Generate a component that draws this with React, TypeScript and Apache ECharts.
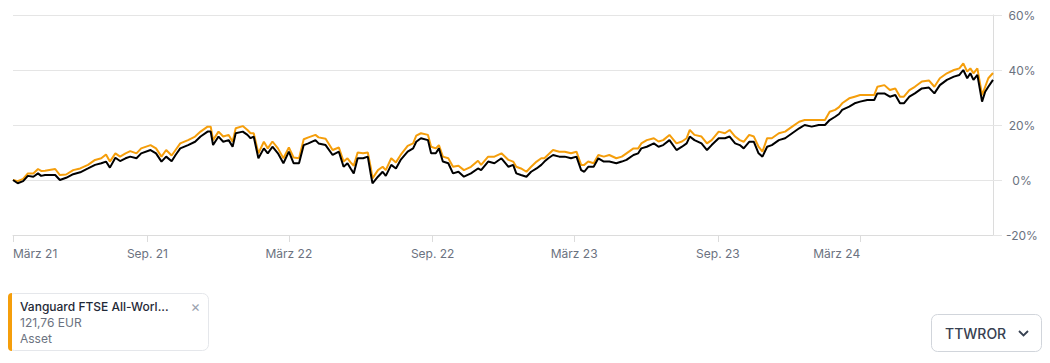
import React, { useEffect, useRef } from "react";
import * as echarts from "echarts";

const dates = [
  "2021-03-13","2021-03-19","2021-03-26","2021-04-01","2021-04-08","2021-04-14","2021-04-18","2021-04-23","2021-05-06","2021-05-12",
  "2021-05-20","2021-05-29","2021-06-07","2021-06-17","2021-06-26","2021-07-04","2021-07-10","2021-07-15","2021-07-22","2021-07-28",
  "2021-08-04","2021-08-10","2021-08-18","2021-08-24","2021-09-05","2021-09-12","2021-09-19","2021-09-25","2021-10-02","2021-10-07",
  "2021-10-13","2021-10-23","2021-11-01","2021-11-08","2021-11-17","2021-11-21","2021-11-24","2021-12-01","2021-12-07","2021-12-14",
  "2021-12-19","2021-12-23","2022-01-01","2022-01-07","2022-01-11","2022-01-15","2022-01-21","2022-01-28","2022-02-02","2022-02-08",
  "2022-02-15","2022-02-22","2022-03-01","2022-03-07","2022-03-14","2022-03-20","2022-03-26","2022-04-04","2022-04-08","2022-04-17",
  "2022-04-26","2022-05-04","2022-05-10","2022-05-15","2022-05-19","2022-05-23","2022-05-28","2022-06-04","2022-06-10","2022-06-14",
  "2022-06-16","2022-06-23","2022-06-29","2022-07-03","2022-07-10","2022-07-16","2022-07-22","2022-07-31","2022-08-07","2022-08-11",
  "2022-08-17","2022-08-26","2022-08-30","2022-09-05","2022-09-09","2022-09-14","2022-09-21","2022-09-27","2022-10-04","2022-10-11",
  "2022-10-20","2022-10-29","2022-11-02","2022-11-11","2022-11-19","2022-11-28","2022-12-07","2022-12-13","2022-12-17","2022-12-23",
  "2022-12-30","2023-01-05","2023-01-12","2023-01-18","2023-01-22","2023-01-27","2023-02-02","2023-02-10","2023-02-17","2023-02-25",
  "2023-03-04","2023-03-10","2023-03-14","2023-03-19","2023-03-26","2023-04-01","2023-04-08","2023-04-15","2023-04-24","2023-05-01",
  "2023-05-07","2023-05-16","2023-05-22","2023-05-26","2023-06-02","2023-06-11","2023-06-17","2023-06-23","2023-07-01","2023-07-10",
  "2023-07-17","2023-07-23","2023-07-27","2023-08-02","2023-08-11","2023-08-18","2023-08-24","2023-09-02","2023-09-10","2023-09-16",
  "2023-09-23","2023-09-29","2023-10-04","2023-10-11","2023-10-17","2023-10-23","2023-10-28","2023-11-03","2023-11-09","2023-11-18",
  "2023-11-26","2023-12-05","2023-12-14","2023-12-21","2023-12-30","2024-01-08","2024-01-16","2024-01-22","2024-01-29","2024-02-03",
  "2024-02-07","2024-02-16","2024-02-23","2024-03-01","2024-03-10","2024-03-19","2024-03-23","2024-04-01","2024-04-08","2024-04-15",
  "2024-04-21","2024-04-26","2024-05-03","2024-05-10","2024-05-19","2024-05-28","2024-06-04","2024-06-11","2024-06-20","2024-06-29",
  "2024-07-06","2024-07-11","2024-07-16","2024-07-20","2024-07-24","2024-07-29","2024-08-04","2024-08-08","2024-08-12","2024-08-18",
];

// black line (TTWROR)
const portfolioReturn = [
  0, -1.2, -0.4, 1.5, 1.2, 2.4, 1.5, 1.8, 1.8, 0,
  0.8, 2.1, 2.8, 4.2, 5.5, 6.1, 6.7, 4.5, 8.1, 6.9,
  7.9, 8.5, 7.9, 9.7, 10.9, 9.7, 6.7, 8.5, 6.8, 9.1,
  11.5, 12.7, 13.9, 15.8, 17.6, 17.6, 12.7, 15.8, 13.9, 14.5,
  12.1, 17.0, 17.6, 16.4, 15.2, 15.8, 7.9, 11.5, 9.7, 12.1,
  9.7, 6.1, 10.3, 6.1, 6.1, 12.7, 13.3, 14.5, 13.3, 12.7,
  9.1, 10.3, 4.8, 6.1, 4.2, 2.4, 7.9, 7.9, 8.5, 1.8,
  -1.2, 1.2, 3.0, 1.5, 5.5, 4.2, 7.3, 10.3, 11.5, 13.9,
  15.2, 14.5, 9.7, 9.7, 11.5, 6.7, 6.1, 2.4, 3.0, 1.2,
  2.4, 4.2, 3.6, 6.7, 6.1, 7.9, 4.8, 5.5, 2.4, 1.8,
  1.2, 3.0, 4.2, 5.5, 6.7, 7.9, 9.1, 8.5, 8.5, 7.9,
  8.5, 3.6, 3.0, 4.8, 4.8, 7.9, 6.7, 6.7, 6.1, 6.7,
  7.3, 9.1, 9.7, 11.5, 12.1, 13.3, 12.1, 12.7, 14.5, 10.9,
  12.1, 13.3, 15.8, 14.5, 13.3, 10.9, 12.7, 15.2, 15.2, 15.8,
  13.3, 12.7, 11.5, 13.9, 13.9, 9.7, 8.5, 12.1, 12.7, 14.5,
  15.2, 17.0, 18.8, 20.0, 19.4, 20.0, 20.0, 21.8, 23.0, 24.0,
  25.5, 26.7, 27.9, 28.5, 29.1, 29.1, 31.5, 31.5, 30.3, 30.9,
  27.9, 27.9, 30.3, 31.5, 33.3, 33.6, 31.5, 34.5, 36.4, 37.6,
  38.2, 40.0, 37.0, 38.8, 36.4, 38.2, 28.5, 32.1, 33.9, 36.4,
];

// orange line (Vanguard FTSE All-World)
const assetReturn = [
  0, -0.4, 0.4, 2.4, 2.4, 4.0, 3.3, 3.4, 4.0, 1.8,
  2.0, 3.6, 4.2, 5.5, 7.3, 7.9, 9.3, 6.7, 9.7, 8.5,
  9.7, 10.5, 9.7, 11.5, 12.7, 11.5, 8.5, 10.9, 8.9, 10.9,
  13.3, 14.5, 15.8, 17.6, 19.4, 19.4, 14.5, 17.6, 15.8, 16.4,
  13.9, 18.8, 19.6, 18.2, 17.0, 17.0, 9.7, 13.9, 11.5, 14.0,
  11.5, 7.9, 11.8, 8.2, 7.9, 14.8, 15.5, 16.4, 15.5, 15.0,
  10.9, 11.8, 6.7, 7.9, 6.4, 5.2, 10.0, 9.7, 10.0, 4.2,
  0.6, 3.6, 4.8, 3.6, 7.9, 6.4, 9.1, 12.4, 13.3, 16.1,
  17.0, 16.4, 12.1, 11.5, 12.7, 8.5, 7.9, 4.8, 5.2, 3.6,
  4.8, 7.0, 5.5, 8.5, 8.5, 9.7, 7.3, 6.7, 4.8, 4.2,
  3.0, 4.8, 6.7, 7.9, 7.9, 9.3, 10.9, 10.3, 10.3, 9.7,
  10.3, 5.5, 5.5, 6.7, 6.1, 9.1, 8.5, 9.1, 7.9, 8.5,
  9.7, 11.5, 11.5, 13.3, 14.5, 15.2, 14.0, 14.5, 16.4, 13.3,
  14.0, 15.2, 18.2, 16.4, 15.8, 13.3, 14.5, 17.6, 17.0, 18.2,
  15.8, 14.5, 13.9, 16.4, 15.8, 12.1, 10.3, 15.2, 15.2, 17.0,
  17.6, 19.4, 21.2, 21.8, 21.8, 21.8, 21.8, 24.8, 25.5, 26.5,
  27.9, 29.7, 30.3, 30.9, 30.9, 30.9, 33.9, 34.5, 32.7, 33.3,
  30.3, 30.3, 32.7, 33.9, 35.8, 36.2, 33.9, 37.0, 38.8, 40.0,
  40.6, 42.4, 39.4, 40.6, 38.8, 40.6, 30.9, 33.9, 37.0, 38.9,
];

const xTickDates = ["2021-03-13", "2021-09-01", "2022-03-01", "2022-09-01", "2023-03-01", "2023-09-01", "2024-03-01"];
const yMin = -20;
const yMax = 60;
const yStep = 20;

const legendName = "Vanguard FTSE All-Worl...";
const legendPrice = "121,76 EUR";
const legendType = "Asset";
const metricLabel = "TTWROR";

const ORANGE = "#f59e0b";
const FONT = "Inter, 'Noto Sans', sans-serif";

const ts = (d: string) => echarts.time.parse(d).getTime();

export default function App() {
  const ref = useRef<HTMLDivElement | null>(null);

  useEffect(() => {
    if (!ref.current) return;
    const chart = echarts.init(ref.current, undefined, { renderer: "svg" });
    const tickVals = xTickDates.map(ts);
    const option: any = {
      animation: false,
      backgroundColor: "#ffffff",
      textStyle: { fontFamily: FONT },
      grid: { left: 13, right: 57, top: 15, bottom: 128, containLabel: false },
      xAxis: {
        type: "value",
        min: ts(dates[0]),
        max: ts(dates[dates.length - 1]),
        axisLine: { show: true, onZero: false, lineStyle: { color: "#dcdcdc", width: 1 } },
        axisTick: { show: true, length: 7, lineStyle: { color: "#dcdcdc" }, customValues: tickVals },
        splitLine: { show: false },
        axisLabel: {
          customValues: tickVals,
          margin: 12,
          color: "#6b7280",
          fontSize: 12,
          fontFamily: FONT,
          alignMinLabel: "left",
          alignMaxLabel: "right",
          hideOverlap: false,
          formatter: (v: number) => {
            const d = new Date(v);
            const yy = String(d.getFullYear()).slice(2);
            return d.getMonth() === 2 ? `März ${yy}` : `Sep. ${yy}`;
          },
        },
      },
      yAxis: {
        type: "value",
        position: "right",
        min: yMin,
        max: yMax,
        interval: yStep,
        axisLine: { show: true, lineStyle: { color: "#dcdcdc", width: 1 } },
        axisTick: { show: true, length: 9, lineStyle: { color: "#e5e5e5" } },
        splitLine: { show: true, lineStyle: { color: "#e5e5e5", width: 1 } },
        axisLabel: {
          margin: 29,
          align: "center",
          color: "#6b7280",
          fontSize: 12,
          fontFamily: FONT,
          formatter: "{value}%",
        },
      },
      series: [
        {
          name: "Vanguard FTSE All-World",
          type: "line",
          showSymbol: false,
          symbol: "none",
          lineStyle: { color: ORANGE, width: 2 },
          itemStyle: { color: ORANGE },
          data: dates.map((d, i) => [ts(d), assetReturn[i]]),
          z: 2,
        },
        {
          name: "TTWROR",
          type: "line",
          showSymbol: false,
          symbol: "none",
          lineStyle: { color: "#000000", width: 2 },
          itemStyle: { color: "#000000" },
          data: dates.map((d, i) => [ts(d), portfolioReturn[i]]),
          z: 3,
        },
      ],
      graphic: [
        {
          type: "rect",
          shape: { x: 8.5, y: 293.5, width: 200, height: 57, r: 6 },
          style: { fill: "#ffffff", stroke: "#e5e7eb", lineWidth: 1 },
        },
        {
          type: "rect",
          shape: { x: 8, y: 293, width: 4, height: 58, r: [6, 0, 0, 6] },
          style: { fill: ORANGE },
        },
        {
          type: "text",
          x: 20,
          y: 306,
          style: { text: legendName, fill: "#1f2937", font: `500 12px ${FONT}`, verticalAlign: "middle" },
        },
        {
          type: "text",
          x: 20,
          y: 322,
          style: { text: legendPrice, fill: "#6b7280", font: `400 12px ${FONT}`, verticalAlign: "middle" },
        },
        {
          type: "text",
          x: 20,
          y: 338,
          style: { text: legendType, fill: "#6b7280", font: `400 12px ${FONT}`, verticalAlign: "middle" },
        },
        {
          type: "text",
          x: 195.5,
          y: 306,
          style: { text: "×", fill: "#9ca3af", font: `400 15px ${FONT}`, align: "center", verticalAlign: "middle" },
        },
        {
          type: "rect",
          shape: { x: 931.5, y: 314.5, width: 110, height: 37, r: 6 },
          style: { fill: "#ffffff", stroke: "#d1d5db", lineWidth: 1 },
        },
        {
          type: "text",
          x: 945,
          y: 333,
          style: { text: metricLabel, fill: "#374151", font: `500 14px ${FONT}`, verticalAlign: "middle" },
        },
        {
          type: "polyline",
          shape: { points: [[1019, 331], [1023.5, 335.5], [1028, 331]] },
          style: { stroke: "#374151", lineWidth: 1.8, fill: "none" },
        },
      ],
    };
    chart.setOption(option);
    return () => chart.dispose();
  }, []);

  return (
    <div
      ref={ref}
      style={{ position: "absolute", left: 0, top: 0, width: 1050, height: 363, background: "#fff" }}
    />
  );
}
